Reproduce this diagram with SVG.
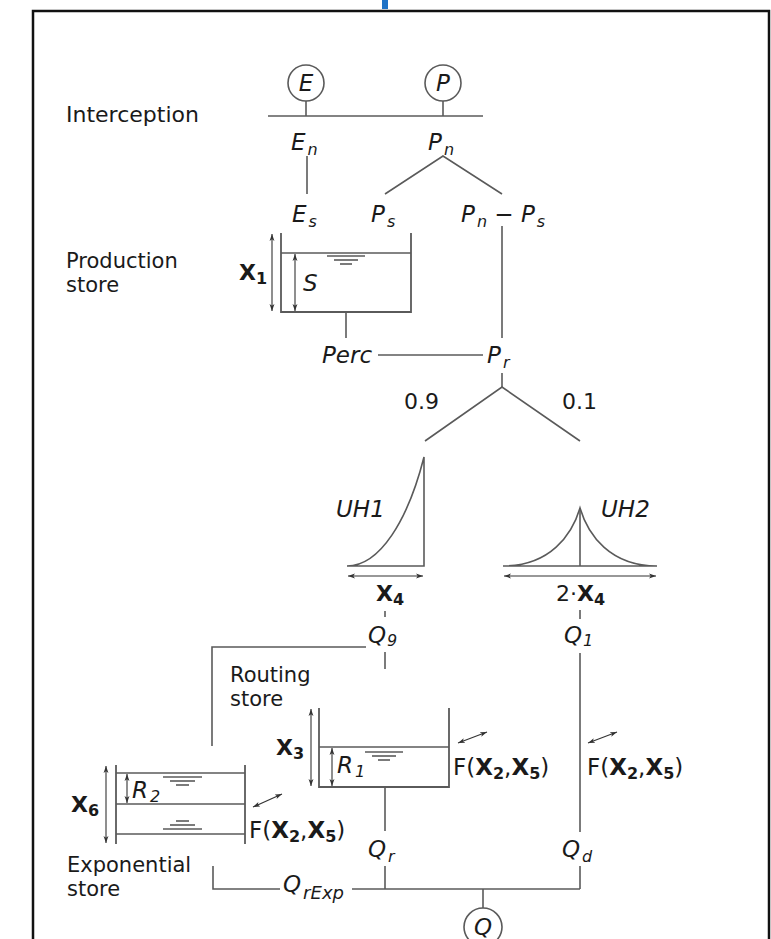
<svg xmlns="http://www.w3.org/2000/svg" width="771" height="939" viewBox="0 0 771 939">
<defs>
<style>
.ln{stroke:#5a5a5a;stroke-width:1.6;fill:none}
.wall{stroke:#5a5a5a;stroke-width:1.8;fill:none}
.ar{stroke:#333;stroke-width:1.1;fill:none;marker-start:url(#ah);marker-end:url(#ah)}
.t{font-family:"DejaVu Sans","Liberation Sans",sans-serif;font-size:22px;fill:#1a1a1a}
.lb{font-size:21px}
.m{font-style:italic;font-size:23px}
.b{font-weight:bold}
.s{font-size:16px}
.f{font-size:23px}
</style>
<marker id="ah" viewBox="0 0 10 10" refX="10" refY="5" markerWidth="7" markerHeight="7" markerUnits="userSpaceOnUse" orient="auto-start-reverse">
<path d="M0,1.5 L10,5 L0,8.5 L2.5,5z" fill="#333"/>
</marker>
</defs>
<rect x="0" y="0" width="771" height="939" fill="#fff"/>
<rect x="33" y="11" width="736" height="1000" fill="none" stroke="#111" stroke-width="2.5"/>
<rect x="382" y="0" width="6" height="9" fill="#1f72c6"/>

<g id="connectors" class="ln">
<line x1="306" y1="101" x2="306" y2="116"/>
<line x1="443" y1="101" x2="443" y2="116"/>
<line x1="268" y1="116" x2="483" y2="116"/>
<line x1="307" y1="156" x2="307" y2="194"/>
<polyline points="385,194 443,156 502,194"/>
<line x1="502" y1="226" x2="502" y2="338"/>
<line x1="346" y1="312" x2="346" y2="338"/>
<line x1="378" y1="355" x2="483" y2="355"/>
<line x1="502" y1="373" x2="502" y2="387"/>
<polyline points="425,441 502,387 580,441"/>
<line x1="385" y1="611" x2="385" y2="617"/>
<line x1="385" y1="652" x2="385" y2="669"/>
<polyline points="366,647 212,647 212,746"/>
<line x1="580" y1="610" x2="580" y2="619"/>
<line x1="580" y1="653" x2="580" y2="832"/>
<line x1="385" y1="787" x2="385" y2="831"/>
<line x1="385" y1="866" x2="385" y2="889"/>
<line x1="580" y1="866" x2="580" y2="889"/>
<polyline points="213,866 213,889 280,889"/>
<line x1="352" y1="889" x2="580" y2="889"/>
<line x1="483" y1="889" x2="483" y2="908"/>
</g>

<g id="interception">
<text class="t" x="66" y="122">Interception</text>
</g>
<g id="E">
<circle class="ln" cx="306" cy="83" r="18"/>
<text class="t m" x="306" y="91" text-anchor="middle">E</text>
</g>
<g id="P">
<circle class="ln" cx="443" cy="83" r="18"/>
<text class="t m" x="443" y="91" text-anchor="middle">P</text>
</g>
<g id="En"><text class="t m" x="291" y="150">E<tspan class="s" dx="2" dy="5">n</tspan></text></g>
<g id="Pn"><text class="t m" x="428" y="150">P<tspan class="s" dx="2" dy="5">n</tspan></text></g>
<g id="Es"><text class="t m" x="292" y="222">E<tspan class="s" dx="2" dy="5">s</tspan></text></g>
<g id="Ps"><text class="t m" x="371" y="222">P<tspan class="s" dx="2" dy="5">s</tspan></text></g>
<g id="PnPs"><text class="t m" x="461" y="222">P<tspan class="s" dx="2" dy="5">n</tspan><tspan dy="-5" font-style="normal"> − </tspan>P<tspan class="s" dx="2" dy="5">s</tspan></text></g>

<g id="production-store">
<text class="t lb" x="66" y="268">Production</text>
<text class="t lb" x="66" y="292">store</text>
<polyline class="wall" points="281,233 281,312 411,312 411,233"/>
<line class="ln" x1="281" y1="253" x2="411" y2="253"/>
<g class="ln" stroke-width="1.4"><line x1="327" y1="256" x2="365" y2="256"/><line x1="334" y1="260" x2="358" y2="260"/><line x1="340" y1="264" x2="352" y2="264"/></g>
<line class="ar" x1="272" y1="234" x2="272" y2="311"/>
<line class="ar" x1="295" y1="254" x2="295" y2="311"/>
<text class="t b" x="239" y="280">X<tspan class="s" dy="4">1</tspan></text>
<text class="t m" x="303" y="291">S</text>
</g>

<g id="Perc"><text class="t m" x="322" y="363">Perc</text></g>
<g id="Pr"><text class="t m" x="487" y="363">P<tspan class="s" dx="2" dy="5">r</tspan></text></g>
<g id="split">
<text class="t" x="404" y="409">0.9</text>
<text class="t" x="562" y="409">0.1</text>
</g>

<g id="UH1">
<path class="ln" d="M347,566 C380,566 408,520 424,457 L424,566 Z"/>
<text class="t m" x="336" y="517">UH1</text>
<line class="ar" x1="348" y1="576" x2="423" y2="576"/>
<text class="t b" x="376" y="601">X<tspan class="s" dy="4">4</tspan></text>
</g>
<g id="UH2">
<path class="ln" d="M503,566 C550,566 572,535 580,508 C588,535 610,566 657,566 Z"/>
<line class="ln" x1="580" y1="508" x2="580" y2="566"/>
<text class="t m" x="601" y="517">UH2</text>
<line class="ar" x1="504" y1="576" x2="656" y2="576"/>
<text class="t" x="556" y="601">2·<tspan class="b">X</tspan><tspan class="s b" dy="4">4</tspan></text>
</g>
<g id="Q9"><text class="t m" x="368" y="643">Q<tspan class="s" dx="1" dy="3">9</tspan></text></g>
<g id="Q1"><text class="t m" x="564" y="643">Q<tspan class="s" dx="1" dy="3">1</tspan></text></g>

<g id="routing-store">
<text class="t lb" x="230" y="682">Routing</text>
<text class="t lb" x="230" y="706">store</text>
<polyline class="wall" points="319,708 319,787 449,787 449,708"/>
<line class="ln" x1="319" y1="747" x2="449" y2="747"/>
<g class="ln" stroke-width="1.4"><line x1="365" y1="752" x2="403" y2="752"/><line x1="372" y1="756" x2="396" y2="756"/><line x1="378" y1="760" x2="390" y2="760"/></g>
<line class="ar" x1="311" y1="709" x2="311" y2="786"/>
<line class="ar" x1="332" y1="748" x2="332" y2="786"/>
<text class="t b" x="276" y="755">X<tspan class="s" dy="4">3</tspan></text>
<text class="t m" x="337" y="773">R<tspan class="s" dx="2" dy="4">1</tspan></text>
<line class="ar" x1="458" y1="743" x2="487" y2="732"/>
<text class="t f" x="453" y="775">F(<tspan class="b">X</tspan><tspan class="s b" dy="4">2</tspan><tspan dy="-4">,</tspan><tspan class="b">X</tspan><tspan class="s b" dy="4">5</tspan><tspan dy="-4">)</tspan></text>
</g>
<g id="direct-flow">
<line class="ar" x1="588" y1="743" x2="617" y2="732"/>
<text class="t f" x="587" y="775">F(<tspan class="b">X</tspan><tspan class="s b" dy="4">2</tspan><tspan dy="-4">,</tspan><tspan class="b">X</tspan><tspan class="s b" dy="4">5</tspan><tspan dy="-4">)</tspan></text>
</g>

<g id="exponential-store">
<line class="wall" x1="116" y1="765" x2="116" y2="844"/>
<line class="wall" x1="245" y1="765" x2="245" y2="844"/>
<line class="ln" x1="116" y1="773" x2="245" y2="773"/>
<line class="ln" x1="116" y1="804" x2="245" y2="804" stroke-width="2.4"/>
<line class="ln" x1="116" y1="834" x2="245" y2="834"/>
<g class="ln" stroke-width="1.4"><line x1="163" y1="777" x2="202" y2="777"/><line x1="170" y1="781" x2="195" y2="781"/><line x1="176" y1="785" x2="189" y2="785"/>
<line x1="176" y1="821" x2="189" y2="821"/><line x1="170" y1="825" x2="195" y2="825"/><line x1="163" y1="829" x2="202" y2="829"/></g>
<line class="ar" x1="106" y1="766" x2="106" y2="843"/>
<line class="ar" x1="127" y1="774" x2="127" y2="803"/>
<text class="t b" x="71" y="812">X<tspan class="s" dy="4">6</tspan></text>
<text class="t m" x="132" y="798">R<tspan class="s" dx="2" dy="4">2</tspan></text>
<line class="ar" x1="253" y1="807" x2="282" y2="794"/>
<text class="t f" x="249" y="838">F(<tspan class="b">X</tspan><tspan class="s b" dy="4">2</tspan><tspan dy="-4">,</tspan><tspan class="b">X</tspan><tspan class="s b" dy="4">5</tspan><tspan dy="-4">)</tspan></text>
<text class="t lb" x="67" y="872">Exponential</text>
<text class="t lb" x="67" y="896">store</text>
</g>
<g id="Qr"><text class="t m" x="368" y="857">Q<tspan class="s" dx="2" dy="5">r</tspan></text></g>
<g id="Qd"><text class="t m" x="562" y="857">Q<tspan class="s" dx="2" dy="5">d</tspan></text></g>
<g id="QrExp"><text class="t m" x="283" y="892">Q<tspan font-size="18px" dx="2" dy="7">rExp</tspan></text></g>
<g id="Q">
<circle class="ln" cx="483" cy="927" r="19"/>
<text class="t m" x="483" y="935" text-anchor="middle">Q</text>
</g>
</svg>
